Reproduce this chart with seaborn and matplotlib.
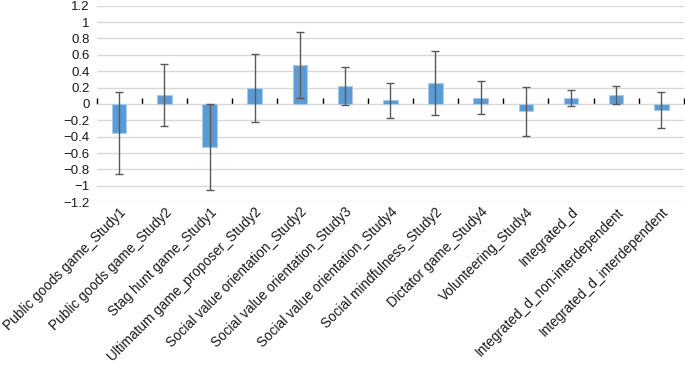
import matplotlib
matplotlib.use("Agg")
import matplotlib.pyplot as plt
import matplotlib.ticker as mticker
import seaborn as sns
import pandas as pd
import numpy as np

categories = [
    "Public goods game_Study1",
    "Public goods game_Study2",
    "Stag hunt game_Study1",
    "Ultimatum game_proposer_Study2",
    "Social value orientation_Study2",
    "Social value orientation_Study3",
    "Social value orientation_Study4",
    "Social mindfulness_Study2",
    "Dictator game_Study4",
    "Volunteering_Study4",
    "Integrated_d",
    "Integrated_d_non-interdependent",
    "Integrated_d_interdependent",
]
effect = [-0.36, 0.105, -0.525, 0.20, 0.47, 0.215, 0.045, 0.252, 0.073, -0.09, 0.073, 0.11, -0.073]
ci_low = [-0.86, -0.27, -1.05, -0.216, 0.073, -0.01, -0.167, -0.138, -0.126, -0.395, -0.024, 0.0, -0.293]
ci_high = [0.14, 0.49, 0.0, 0.61, 0.875, 0.45, 0.256, 0.643, 0.277, 0.208, 0.175, 0.216, 0.147]
y_ticks = [1.2, 1, 0.8, 0.6, 0.4, 0.2, 0, -0.2, -0.4, -0.6, -0.8, -1, -1.2]

sns.set_theme(style="white")
plt.rcParams["font.family"] = ["Liberation Sans", "DejaVu Sans"]

df = pd.DataFrame({"cat": categories, "d": effect})

fig = plt.figure(figsize=(6.85, 3.67), dpi=100)
ax = fig.add_axes([0.141, 0.449, 0.8575, 0.5355])

sns.barplot(data=df, x="cat", y="d", ax=ax, color="#5B9BD5", saturation=1,
            width=0.32, edgecolor="#A9CBEA", linewidth=0.8, errorbar=None, zorder=2)

x = np.arange(len(categories))
eff = np.array(effect)
lo = eff - np.array(ci_low)
hi = np.array(ci_high) - eff
ax.errorbar(x, eff, yerr=[lo, hi], fmt="none", ecolor="#595959",
            elinewidth=1.0, capsize=3, capthick=1.0, zorder=3)

ax.set_ylim(-1.2, 1.2)
ax.set_xlim(-0.5, len(categories) - 0.5)
ax.set_yticks(y_ticks)
ax.yaxis.set_major_formatter(mticker.FuncFormatter(lambda v, p: f"{v:g}".replace("-", "\u2212")))
ax.yaxis.grid(True, color="#D9D9D9", linewidth=1.0, zorder=0)
ax.set_axisbelow(True)
for s in ax.spines.values():
    s.set_visible(False)

ax.set_xlabel("")
ax.set_ylabel("")
ax.tick_params(axis="y", length=0, pad=5, labelsize=9.5, labelcolor="#1a1a1a")
ax.tick_params(axis="x", length=0, pad=2, labelsize=9.8, labelcolor="#1a1a1a")
ax.set_xticks(x)
ax.set_xticklabels(categories, rotation=45, ha="right", rotation_mode="anchor")

# zero axis with category-boundary tick marks
sec = ax.secondary_xaxis(0.5)
sec.set_xticks(np.arange(len(categories) + 1) - 0.5)
sec.set_xticklabels([])
sec.tick_params(axis="x", direction="out", length=4, width=1.0, color="black")
sec.spines["bottom"].set_color("black")
sec.spines["bottom"].set_linewidth(1.0)
sec.spines["top"].set_visible(False)
for k in ["left", "right"]:
    if k in sec.spines:
        sec.spines[k].set_visible(False)

fig.savefig("out.png", dpi=100, facecolor="white")
